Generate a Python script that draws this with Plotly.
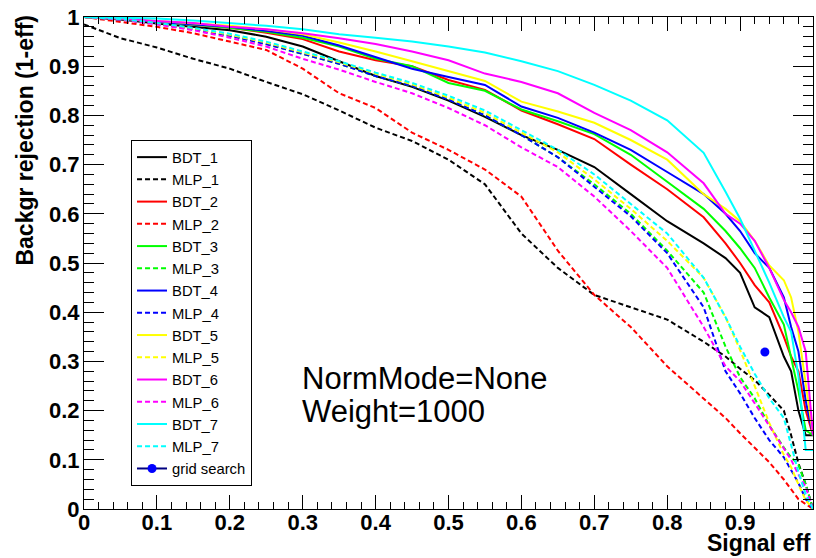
import plotly.graph_objects as go

# Signal efficiency grid (x values read at these points)
EFF = [0.0, 0.05, 0.1, 0.15, 0.2, 0.25, 0.3, 0.35, 0.4, 0.45, 0.5, 0.55, 0.6, 0.65,
       0.7, 0.75, 0.8, 0.85, 0.88, 0.9, 0.92, 0.94, 0.96, 0.97, 0.98, 0.99, 1.0]

BDT_1 = [1.0, 0.995, 0.987, 0.98, 0.973, 0.96, 0.94, 0.91, 0.88, 0.858, 0.83, 0.797, 0.76, 0.73,
         0.695, 0.64, 0.585, 0.54, 0.51, 0.48, 0.41, 0.39, 0.31, 0.28, 0.2, 0.15, 0.15]
MLP_1 = [0.985, 0.957, 0.938, 0.915, 0.895, 0.868, 0.843, 0.81, 0.775, 0.748, 0.71, 0.66, 0.56, 0.49,
         0.435, 0.41, 0.385, 0.34, 0.31, 0.285, 0.262, 0.232, 0.2, 0.15, 0.093, 0.05, 0.0]
BDT_2 = [1.0, 0.997, 0.99, 0.985, 0.978, 0.968, 0.955, 0.93, 0.912, 0.9, 0.872, 0.852, 0.81, 0.782,
         0.752, 0.70, 0.65, 0.593, 0.54, 0.50, 0.455, 0.42, 0.35, 0.31, 0.28, 0.2, 0.15]
MLP_2 = [1.0, 0.99, 0.98, 0.967, 0.95, 0.933, 0.895, 0.845, 0.815, 0.765, 0.73, 0.69, 0.635, 0.525,
         0.435, 0.37, 0.29, 0.225, 0.185, 0.154, 0.125, 0.095, 0.06, 0.04, 0.02, 0.01, 0.0]
BDT_3 = [1.0, 0.997, 0.99, 0.985, 0.978, 0.97, 0.958, 0.94, 0.915, 0.9, 0.866, 0.85, 0.812, 0.788,
         0.762, 0.72, 0.665, 0.61, 0.565, 0.53, 0.49, 0.43, 0.375, 0.31, 0.24, 0.16, 0.15]
MLP_3 = [1.0, 0.995, 0.986, 0.975, 0.962, 0.945, 0.925, 0.905, 0.88, 0.86, 0.833, 0.8, 0.76, 0.715,
         0.66, 0.6, 0.525, 0.44, 0.33, 0.268, 0.225, 0.17, 0.125, 0.105, 0.09, 0.05, 0.0]
BDT_4 = [1.0, 0.997, 0.99, 0.985, 0.98, 0.972, 0.962, 0.942, 0.918, 0.895, 0.878, 0.862, 0.818, 0.795,
         0.765, 0.73, 0.685, 0.64, 0.6, 0.565, 0.52, 0.49, 0.43, 0.37, 0.32, 0.22, 0.15]
MLP_4 = [1.0, 0.995, 0.986, 0.975, 0.962, 0.945, 0.925, 0.905, 0.88, 0.86, 0.832, 0.8, 0.76, 0.715,
         0.655, 0.595, 0.52, 0.41, 0.28, 0.235, 0.185, 0.14, 0.105, 0.08, 0.053, 0.02, 0.0]
BDT_5 = [1.0, 0.997, 0.992, 0.987, 0.982, 0.975, 0.965, 0.948, 0.93, 0.91, 0.89, 0.87, 0.828, 0.808,
         0.785, 0.75, 0.71, 0.64, 0.61, 0.585, 0.545, 0.495, 0.465, 0.43, 0.36, 0.26, 0.15]
MLP_5 = [1.0, 0.996, 0.987, 0.977, 0.964, 0.948, 0.928, 0.908, 0.885, 0.863, 0.836, 0.805, 0.765, 0.725,
         0.67, 0.61, 0.545, 0.47, 0.39, 0.323, 0.25, 0.175, 0.11, 0.085, 0.05, 0.018, 0.0]
BDT_6 = [1.0, 0.997, 0.992, 0.988, 0.98, 0.975, 0.967, 0.957, 0.945, 0.93, 0.912, 0.885, 0.868, 0.845,
         0.805, 0.77, 0.725, 0.662, 0.6, 0.58, 0.545, 0.49, 0.425, 0.4, 0.37, 0.32, 0.15]
MLP_6 = [1.0, 0.995, 0.985, 0.973, 0.958, 0.94, 0.915, 0.893, 0.868, 0.845, 0.815, 0.78, 0.735, 0.695,
         0.635, 0.565, 0.49, 0.37, 0.29, 0.26, 0.215, 0.17, 0.125, 0.1, 0.07, 0.045, 0.0]
BDT_7 = [1.0, 0.999, 0.997, 0.993, 0.988, 0.982, 0.975, 0.965, 0.958, 0.95, 0.94, 0.928, 0.91, 0.89,
         0.862, 0.83, 0.79, 0.724, 0.645, 0.59, 0.525, 0.46, 0.39, 0.36, 0.27, 0.12, 0.12]
MLP_7 = [1.0, 0.996, 0.988, 0.978, 0.966, 0.95, 0.93, 0.91, 0.887, 0.866, 0.84, 0.81, 0.77, 0.73,
         0.68, 0.62, 0.56, 0.47, 0.39, 0.33, 0.275, 0.225, 0.185, 0.13, 0.075, 0.03, 0.0]

GRID_X = [0.934]
GRID_Y = [0.319]

NAMES = ["BDT_1", "MLP_1", "BDT_2", "MLP_2", "BDT_3", "MLP_3", "BDT_4", "MLP_4",
         "BDT_5", "MLP_5", "BDT_6", "MLP_6", "BDT_7", "MLP_7"]
VALUES = [BDT_1, MLP_1, BDT_2, MLP_2, BDT_3, MLP_3, BDT_4, MLP_4,
          BDT_5, MLP_5, BDT_6, MLP_6, BDT_7, MLP_7]
COLORS = ["#000000", "#000000", "#ff0000", "#ff0000", "#00ff00", "#00ff00", "#0000ff", "#0000ff",
          "#ffff00", "#ffff00", "#ff00ff", "#ff00ff", "#00ffff", "#00ffff"]

FONT = "Liberation Sans, Arial, Helvetica, sans-serif"

fig = go.Figure()
for name, vals, col in zip(NAMES, VALUES, COLORS):
    dash = "solid" if name.startswith("BDT") else "5px,3px"
    fig.add_trace(go.Scatter(x=EFF, y=vals, mode="lines", name=name,
                             line=dict(color=col, width=2, dash=dash)))

fig.add_trace(go.Scatter(x=GRID_X, y=GRID_Y, mode="lines+markers", name="grid search",
                         line=dict(color="#000080", width=2),
                         marker=dict(color="#0000ff", size=9, symbol="circle")))

axis_common = dict(range=[0, 1], dtick=0.1, tick0=0, ticks="inside", tickwidth=1,
                   tickcolor="black", showline=True, linecolor="black", linewidth=1,
                   mirror="allticks", showgrid=False, zeroline=False, automargin=False,
                   tickfont=dict(family=FONT, size=22, color="black", weight="bold"))

fig.update_xaxes(**axis_common, ticklen=14, ticklabelstandoff=-6,
                 minor=dict(ticks="inside", ticklen=7, dtick=0.02, tick0=0,
                            tickcolor="black", tickwidth=1, showgrid=False))
fig.update_yaxes(**axis_common, ticklen=20, ticklabelstandoff=-1,
                 minor=dict(ticks="inside", ticklen=10, dtick=0.02, tick0=0,
                            tickcolor="black", tickwidth=1, showgrid=False))

fig.update_layout(
    width=816, height=558,
    margin=dict(l=84, r=3, t=17, b=49, autoexpand=False),
    plot_bgcolor="white", paper_bgcolor="white",
    font=dict(family=FONT, color="black"),
    legend=dict(x=0.0645, y=0.75, xanchor="left", yanchor="top",
                bordercolor="black", borderwidth=1, bgcolor="white",
                font=dict(family=FONT, size=14.8, color="black"),
                tracegroupgap=0, itemwidth=30),
    annotations=[
        dict(text="Signal eff", x=1.0, y=-0.0995, xref="paper", yref="paper",
             xanchor="right", yanchor="bottom", showarrow=False,
             font=dict(family=FONT, size=23, color="black", weight="bold")),
        dict(text="Backgr rejection (1-eff)", x=-0.081, y=1.01, xref="paper", yref="paper",
             xanchor="center", yanchor="top", textangle=-90, showarrow=False,
             font=dict(family=FONT, size=23, color="black", weight="bold")),
        dict(text="NormMode=None", x=0.296, y=0.266, xref="paper", yref="paper",
             xanchor="left", yanchor="middle", showarrow=False,
             font=dict(family=FONT, size=31, color="black")),
        dict(text="Weight=1000", x=0.296, y=0.199, xref="paper", yref="paper",
             xanchor="left", yanchor="middle", showarrow=False,
             font=dict(family=FONT, size=31, color="black")),
    ],
)

fig.write_html("out.html", config={"displayModeBar": False},
               post_script="document.body.style.margin='0';document.body.style.padding='0';")
